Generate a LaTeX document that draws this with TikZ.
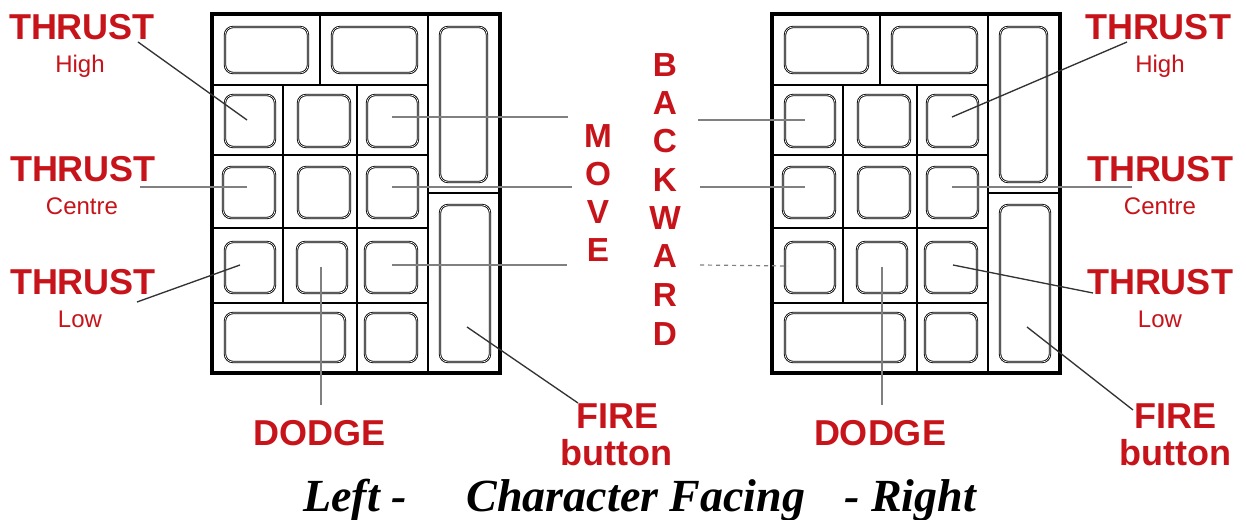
\documentclass[tikz,border=0pt]{standalone}
\usepackage{fontspec}
\setmainfont{Liberation Sans}
\newfontfamily\titlefont{Liberation Serif}
\definecolor{lblred}{RGB}{198,20,26}
\newcommand\btnbox[4]{\draw[btn] (#1,#2) rectangle (#3,#4);}
\newcommand\keypad[1]{%
\begin{scope}[shift={(#1,0)}]
  \draw[divider] (212,85) -- (428,85);
  \draw[divider] (320,14) -- (320,85);
  \draw[divider] (428,14) -- (428,373);
  \draw[divider] (428,193) -- (500,193);
  \draw[divider] (212,155) -- (428,155);
  \draw[divider] (212,228) -- (428,228);
  \draw[divider] (212,303) -- (428,303);
  \draw[divider] (283,85) -- (283,303);
  \draw[divider] (357,85) -- (357,373);
  \draw[frame] (212,14) rectangle (500,373);
  \btnbox{225}{27}{308}{73}
  \btnbox{332}{27}{417}{73}
  \btnbox{440}{27}{487}{182}
  \btnbox{440}{205}{490}{362}
  \btnbox{225}{95}{275}{147}
  \btnbox{298}{95}{350}{147}
  \btnbox{367}{95}{418}{147}
  \btnbox{223}{167}{275}{218}
  \btnbox{298}{167}{350}{218}
  \btnbox{367}{167}{418}{218}
  \btnbox{225}{242}{275}{293}
  \btnbox{297}{242}{347}{293}
  \btnbox{365}{242}{417}{293}
  \btnbox{225}{313}{345}{362}
  \btnbox{365}{313}{417}{362}
\end{scope}}
\begin{document}
\begin{tikzpicture}[x=0.75pt,y=-0.75pt,
  big/.style={font=\bfseries\fontsize{27}{27}\selectfont, text=lblred, inner sep=0pt, anchor=base},
  small/.style={font=\fontsize{18}{18}\selectfont, text=lblred, inner sep=0pt, anchor=base},
  letter/.style={font=\bfseries\fontsize{25}{25}\selectfont, text=lblred, inner sep=0pt, anchor=base},
  titletext/.style={font=\titlefont\bfseries\itshape\fontsize{34.5}{34.5}\selectfont, inner sep=0pt, anchor=base},
  frame/.style={line width=3pt},
  divider/.style={line width=1.5pt},
  btn/.style={draw=black, line width=0.65pt, double=white, double distance=0.45pt, rounded corners=6pt},
  lead/.style={draw=black!80, line width=1pt},
  leadgray/.style={draw=black!50, line width=0.9pt}]
\useasboundingbox[fill=white] (0,0) rectangle (1246,520);

\keypad{0}
\keypad{560}

% left labels
\node[big] (tl1) at (82,40) {THRUST};
\node[small] (tl1s) at (80,73) {High};
\node[big] (tl2) at (83,182) {THRUST};
\node[small] (tl2s) at (82,215) {Centre};
\node[big] (tl3) at (83,295) {THRUST};
\node[small] (tl3s) at (80,328) {Low};
\node[big] (dl) at (320,445) {DODGE};
\node[big] (fl1) at (617,428) {FIRE};
\node[big] (fl2) at (616,465) {button};

% right labels
\node[big] (tr1) at (1158,40) {THRUST};
\node[small] (tr1s) at (1160,73) {High};
\node[big] (tr2) at (1160,182) {THRUST};
\node[small] (tr2s) at (1160,215) {Centre};
\node[big] (tr3) at (1160,295) {THRUST};
\node[small] (tr3s) at (1160,328) {Low};
\node[big] (dr) at (880,445) {DODGE};
\node[big] (fr1) at (1175,428) {FIRE};
\node[big] (fr2) at (1175,465) {button};

% MOVE BACKWARD
\node[letter] (m1) at (598,148) {M};
\node[letter] (m2) at (598,186) {O};
\node[letter] (m3) at (598,224) {V};
\node[letter] (m4) at (598,262) {E};
\node[letter] (b1) at (665,77) {B};
\node[letter] (b2) at (665,115) {A};
\node[letter] (b3) at (665,153) {C};
\node[letter] (b4) at (665,192) {K};
\node[letter] (b5) at (665,230) {W};
\node[letter] (b6) at (665,268) {A};
\node[letter] (b7) at (665,307) {R};
\node[letter] (b8) at (665,345) {D};

% title
\node[titletext] (t1) at (355,511) {Left -};
\node[titletext] (t2) at (636,511) {Character Facing};
\node[titletext] (t3) at (910,511) {- Right};

% connector end points
\coordinate (a1) at (138,42);   \coordinate (a1e) at (247,120);
\coordinate (a2) at (140,187);  \coordinate (a2e) at (247,187);
\coordinate (a3) at (137,302);  \coordinate (a3e) at (240,265);
\coordinate (l1) at (392,117);  \coordinate (l1e) at (568,117);
\coordinate (l2) at (392,187);  \coordinate (l2e) at (572,187);
\coordinate (l3) at (392,265);  \coordinate (l3e) at (567,265);
\coordinate (dg1) at (321,267); \coordinate (dg1e) at (321,405);
\coordinate (f1) at (467,327);  \coordinate (f1e) at (578,403);
\coordinate (r1) at (698,120);  \coordinate (r1e) at (805,120);
\coordinate (r2) at (700,187);  \coordinate (r2e) at (805,187);
\coordinate (r3) at (700,265);  \coordinate (r3e) at (788,266);
\coordinate (c1) at (952,117);  \coordinate (c1e) at (1127,42);
\coordinate (c2) at (952,187);  \coordinate (c2e) at (1132,187);
\coordinate (c3) at (953,265);  \coordinate (c3e) at (1093,293);
\coordinate (dg2) at (882,267); \coordinate (dg2e) at (882,405);
\coordinate (f2) at (1027,327); \coordinate (f2e) at (1133,410);

\draw[lead] (a1) -- (a1e);
\draw[leadgray] (a2) -- (a2e);
\draw[lead] (a3) -- (a3e);
\draw[leadgray] (l1) -- (l1e);
\draw[leadgray] (l2) -- (l2e);
\draw[leadgray] (l3) -- (l3e);
\draw[leadgray] (dg1) -- (dg1e);
\draw[lead] (f1) -- (f1e);
\draw[leadgray] (r1) -- (r1e);
\draw[leadgray] (r2) -- (r2e);
\draw[leadgray, dashed] (r3) -- (r3e);
\draw[lead] (c1) -- (c1e);
\draw[leadgray] (c2) -- (c2e);
\draw[lead] (c3) -- (c3e);
\draw[leadgray] (dg2) -- (dg2e);
\draw[lead] (f2) -- (f2e);
\end{tikzpicture}
\end{document}
